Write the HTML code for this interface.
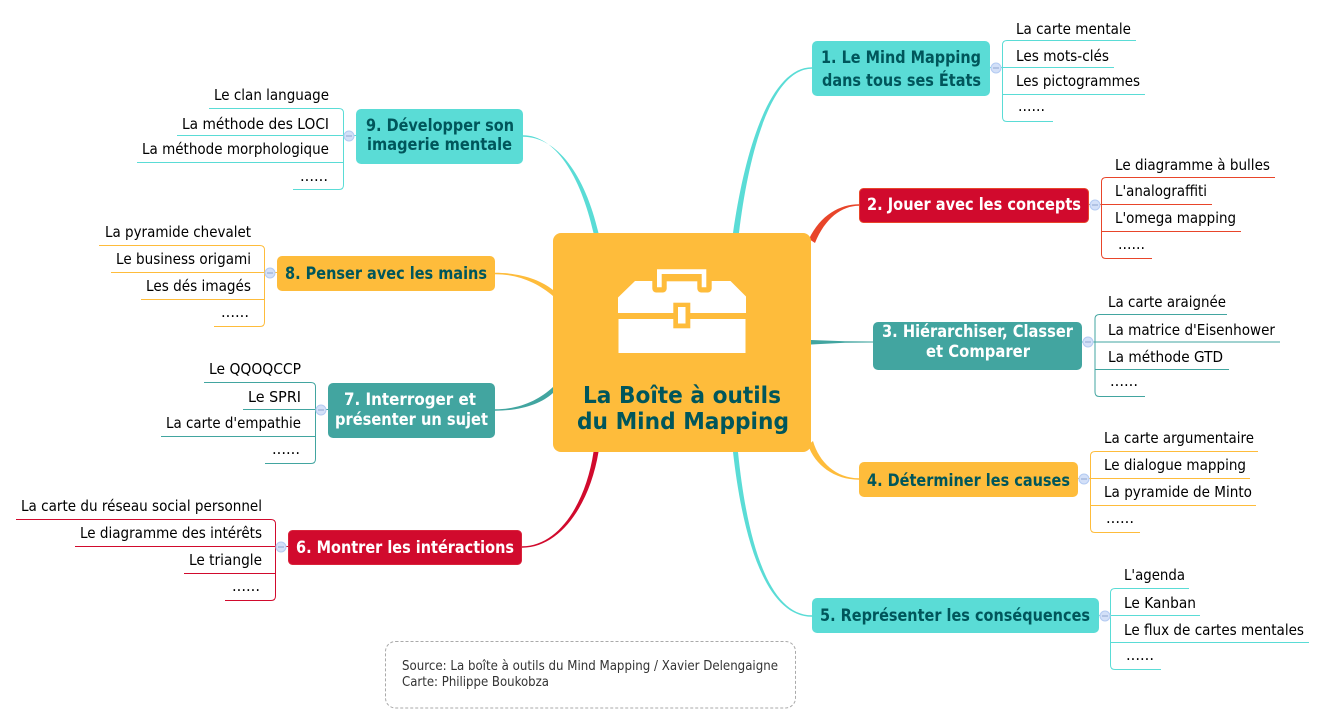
<!DOCTYPE html>
<html lang="fr"><head><meta charset="utf-8"><title>La Boîte à outils du Mind Mapping</title>
<style>
html,body{margin:0;padding:0;background:#fff}
svg{display:block}
text{font-family:"DejaVu Sans","Liberation Sans",sans-serif}
.l{font-size:15px;fill:#000}
.b{font-size:16.5px;font-weight:bold}
.w{fill:#fff}.d{fill:#00565b}
.t{font-size:23.5px;font-weight:bold;fill:#00565b}
.s{font-size:13.5px;fill:#333}
.c{fill:#d3e0f8;stroke:#b4cbf2;stroke-width:1}
.m{stroke:#8fa6cf;stroke-width:1}
.p{fill:none;stroke-width:1}
</style></head><body>
<svg xmlns="http://www.w3.org/2000/svg" width="1325" height="724" viewBox="0 0 1325 724">
<rect width="1325" height="724" fill="#fff"/>
<!-- main connectors -->
<path fill="#5adcd6" d="M733,233C745,149.500 770,67.300 812,67.300L812,68.700C772,68.700 749,150.500 739,233Z"/>
<path fill="#e8452a" d="M809,239C820.500,215 840,204.300 859,204.300L859,205.700C842,205.700 825,218 815,243Z"/>
<path fill="#42a5a0" d="M811,340L845,341.300L873,341.500L873,342.500L845,342.700L811,344.500Z"/>
<path fill="#febc3b" d="M813,441C819,462 836,478.300 859,478.300L859,479.700C834,479.700 815,465 808,445Z"/>
<path fill="#5adcd6" d="M733,452C743,540 766,616.700 812,616.700L812,615.300C768,615.300 747,540 738,452Z"/>
<path fill="#d10a2d" d="M593.500,452C586,502.500 559,546.300 522,546.300L522,547.700C561,547.700 590,503.500 598.500,452Z"/>
<path fill="#42a5a0" d="M553,387C539,400 520,409.300 495,409.300L495,410.700C521,410.700 541,404 553,393Z"/>
<path fill="#febc3b" d="M553,290C541,280 520.500,272.800 495,272.800L495,274.200C519.500,274.200 539,284 553,296Z"/>
<path fill="#5adcd6" d="M593.500,233C580.500,175.500 555,135.300 523,135.300L523,136.700C557,136.700 585,174.500 598.500,233Z"/>
<!-- central -->
<rect x="553" y="233" width="258" height="219" rx="8" fill="#febc3b"/>
<path fill="#fff" d="M618,297.500L635,281H730.500L746,296.500V313H618ZM618.500,319H745.500V353H618.500Z"/>
<rect x="652.300" y="275" width="14.400" height="17.500" rx="4" fill="#febc3b"/>
<rect x="697.300" y="275" width="14.400" height="17.500" rx="4" fill="#febc3b"/>
<rect x="657" y="269.300" width="49.300" height="12" fill="#febc3b"/>
<path fill="#fff" d="M657,287.300V269.300H706.300V287.300H701.700V274H661.700V287.300Z"/>
<rect x="673.300" y="302.700" width="17" height="25.600" fill="#febc3b"/>
<rect x="678" y="307" width="7.500" height="16.500" fill="#fff"/>
<text class="t" x="583" y="403" textLength="198" lengthAdjust="spacingAndGlyphs">La Boîte à outils</text>
<text class="t" x="577" y="429" textLength="212" lengthAdjust="spacingAndGlyphs">du Mind Mapping</text>
<!-- nodes -->
<rect x="812" y="41" width="178" height="55" rx="5" fill="#5adcd6"/>
<text class="b d" x="821" y="63" textLength="160" lengthAdjust="spacingAndGlyphs">1. Le Mind Mapping</text>
<text class="b d" x="822" y="86" textLength="159" lengthAdjust="spacingAndGlyphs">dans tous ses États</text>
<rect x="859.500" y="188.500" width="229" height="34" rx="4" fill="#d10a2d" stroke="#e8452a"/>
<text class="b w" x="867" y="210" textLength="214" lengthAdjust="spacingAndGlyphs">2. Jouer avec les concepts</text>
<rect x="873" y="322" width="209" height="48" rx="5" fill="#42a5a0"/>
<text class="b w" x="882" y="337" textLength="191" lengthAdjust="spacingAndGlyphs">3. Hiérarchiser, Classer</text>
<text class="b w" x="926" y="357" textLength="104" lengthAdjust="spacingAndGlyphs">et Comparer</text>
<rect x="859" y="462" width="219" height="35" rx="5" fill="#febc3b"/>
<text class="b d" x="867" y="486" textLength="203" lengthAdjust="spacingAndGlyphs">4. Déterminer les causes</text>
<rect x="812" y="598" width="287" height="35" rx="5" fill="#5adcd6"/>
<text class="b d" x="820" y="621" textLength="270" lengthAdjust="spacingAndGlyphs">5. Représenter les conséquences</text>
<rect x="288.500" y="530.500" width="233" height="34" rx="4" fill="#d10a2d" stroke="#d9233a"/>
<text class="b w" x="296" y="553" textLength="218" lengthAdjust="spacingAndGlyphs">6. Montrer les intéractions</text>
<rect x="328" y="383" width="167" height="55" rx="5" fill="#42a5a0"/>
<text class="b w" x="344" y="405" textLength="132" lengthAdjust="spacingAndGlyphs">7. Interroger et</text>
<text class="b w" x="335" y="425" textLength="153" lengthAdjust="spacingAndGlyphs">présenter un sujet</text>
<rect x="277" y="256" width="218" height="35" rx="5" fill="#febc3b"/>
<text class="b d" x="285" y="279" textLength="202" lengthAdjust="spacingAndGlyphs">8. Penser avec les mains</text>
<rect x="356" y="109" width="167" height="55" rx="5" fill="#5adcd6"/>
<text class="b d" x="366" y="131" textLength="148" lengthAdjust="spacingAndGlyphs">9. Développer son</text>
<text class="b d" x="367" y="150" textLength="145" lengthAdjust="spacingAndGlyphs">imagerie mentale</text>
<!-- leaf lines -->
<g class="p" stroke="#5adcd6">
<path class="p" d="M1136,40.500H1007Q1002.500,40.500 1002.500,45V117Q1002.500,121.500 1007,121.500H1053M990,67.500H1114M1002.500,94.500H1145"/>
<path class="p" d="M1189,588.500H1115Q1110.500,588.500 1110.500,593V665Q1110.500,669.500 1115,669.500H1161M1099,615.500H1200M1110.500,642.500H1309"/>
<path class="p" d="M209,108.500H339Q343.500,108.500 343.500,113V185Q343.500,189.500 339,189.500H293M356,135.500H177M343.500,162.500H137"/>
</g>
<g class="p" stroke="#e8452a">
<path class="p" d="M1275,177.500H1106Q1101.500,177.500 1101.500,182V254Q1101.500,258.500 1106,258.500H1152M1089,204.500H1212M1101.500,231.500H1241"/>
</g>
<g class="p" stroke="#42a5a0">
<path class="p" d="M1227,314.500H1099.500Q1095,314.500 1095,319V392Q1095,396.500 1099.500,396.500H1145M1082,342H1280M1095,369.500H1229"/>
<path class="p" d="M204,382.500H311Q315.500,382.500 315.500,387V459Q315.500,463.500 311,463.500H265M328,409.500H243M315.500,436.500H161"/>
</g>
<g class="p" stroke="#febc3b">
<path class="p" d="M1258,451.500H1095Q1090.500,451.500 1090.500,456V528Q1090.500,532.500 1095,532.500H1140M1078,478.500H1250M1090.500,505.500H1256"/>
<path class="p" d="M99,245.500H260Q264.500,245.500 264.500,250V322Q264.500,326.500 260,326.500H214M277,272.500H111M264.500,299.500H141"/>
</g>
<g class="p" stroke="#d10a2d">
<path class="p" d="M16,519.500H271Q275.500,519.500 275.500,524V596Q275.500,600.500 271,600.500H225M288,546.500H75M275.500,573.500H184"/>
</g>
<!-- collapse circles -->
<g>
<circle class="c" cx="996" cy="68" r="5"/><path class="m" d="M993,68H999"/>
<circle class="c" cx="1095" cy="205" r="5"/><path class="m" d="M1092,205H1098"/>
<circle class="c" cx="1088" cy="342" r="5"/><path class="m" d="M1085,342H1091"/>
<circle class="c" cx="1084" cy="479" r="5"/><path class="m" d="M1081,479H1087"/>
<circle class="c" cx="1105" cy="616" r="5"/><path class="m" d="M1102,616H1108"/>
<circle class="c" cx="281" cy="547" r="5"/><path class="m" d="M278,547H284"/>
<circle class="c" cx="321" cy="410" r="5"/><path class="m" d="M318,410H324"/>
<circle class="c" cx="270" cy="273" r="5"/><path class="m" d="M267,273H273"/>
<circle class="c" cx="349" cy="136" r="5"/><path class="m" d="M346,136H352"/>
</g>
<!-- leaf text -->
<g class="l">
<text class="l" x="1016" y="34" textLength="115" lengthAdjust="spacingAndGlyphs">La carte mentale</text>
<text class="l" x="1016" y="61" textLength="93" lengthAdjust="spacingAndGlyphs">Les mots-clés</text>
<text class="l" x="1016" y="86" textLength="124" lengthAdjust="spacingAndGlyphs">Les pictogrammes</text>
<text class="l" x="1018" y="111" textLength="27" lengthAdjust="spacingAndGlyphs">......</text>
<text class="l" x="1115" y="170" textLength="155" lengthAdjust="spacingAndGlyphs">Le diagramme à bulles</text>
<text class="l" x="1115" y="196" textLength="92" lengthAdjust="spacingAndGlyphs">L'analograffiti</text>
<text class="l" x="1115" y="223" textLength="121" lengthAdjust="spacingAndGlyphs">L'omega mapping</text>
<text class="l" x="1118" y="249" textLength="27" lengthAdjust="spacingAndGlyphs">......</text>
<text class="l" x="1108" y="307" textLength="118" lengthAdjust="spacingAndGlyphs">La carte araignée</text>
<text class="l" x="1108" y="335" textLength="167" lengthAdjust="spacingAndGlyphs">La matrice d'Eisenhower</text>
<text class="l" x="1108" y="362" textLength="115" lengthAdjust="spacingAndGlyphs">La méthode GTD</text>
<text class="l" x="1110" y="386" textLength="28" lengthAdjust="spacingAndGlyphs">......</text>
<text class="l" x="1104" y="443" textLength="150" lengthAdjust="spacingAndGlyphs">La carte argumentaire</text>
<text class="l" x="1104" y="470" textLength="142" lengthAdjust="spacingAndGlyphs">Le dialogue mapping</text>
<text class="l" x="1104" y="497" textLength="148" lengthAdjust="spacingAndGlyphs">La pyramide de Minto</text>
<text class="l" x="1106" y="523" textLength="28" lengthAdjust="spacingAndGlyphs">......</text>
<text class="l" x="1124" y="580" textLength="61" lengthAdjust="spacingAndGlyphs">L'agenda</text>
<text class="l" x="1124" y="608" textLength="72" lengthAdjust="spacingAndGlyphs">Le Kanban</text>
<text class="l" x="1124" y="635" textLength="180" lengthAdjust="spacingAndGlyphs">Le flux de cartes mentales</text>
<text class="l" x="1126" y="660" textLength="28" lengthAdjust="spacingAndGlyphs">......</text>
<text class="l" x="21" y="511" textLength="241" lengthAdjust="spacingAndGlyphs">La carte du réseau social personnel</text>
<text class="l" x="80" y="538" textLength="182" lengthAdjust="spacingAndGlyphs">Le diagramme des intérêts</text>
<text class="l" x="189" y="565" textLength="73" lengthAdjust="spacingAndGlyphs">Le triangle</text>
<text class="l" x="232" y="591" textLength="28" lengthAdjust="spacingAndGlyphs">......</text>
<text class="l" x="209" y="374" textLength="92" lengthAdjust="spacingAndGlyphs">Le QQOQCCP</text>
<text class="l" x="248" y="402" textLength="53" lengthAdjust="spacingAndGlyphs">Le SPRI</text>
<text class="l" x="166" y="428" textLength="135" lengthAdjust="spacingAndGlyphs">La carte d'empathie</text>
<text class="l" x="272" y="454" textLength="28" lengthAdjust="spacingAndGlyphs">......</text>
<text class="l" x="105" y="237" textLength="146" lengthAdjust="spacingAndGlyphs">La pyramide chevalet</text>
<text class="l" x="116" y="264" textLength="135" lengthAdjust="spacingAndGlyphs">Le business origami</text>
<text class="l" x="146" y="291" textLength="105" lengthAdjust="spacingAndGlyphs">Les dés imagés</text>
<text class="l" x="221" y="317" textLength="28" lengthAdjust="spacingAndGlyphs">......</text>
<text class="l" x="214" y="100" textLength="115" lengthAdjust="spacingAndGlyphs">Le clan language</text>
<text class="l" x="182" y="129" textLength="147" lengthAdjust="spacingAndGlyphs">La méthode des LOCI</text>
<text class="l" x="142" y="154" textLength="187" lengthAdjust="spacingAndGlyphs">La méthode morphologique</text>
<text class="l" x="300" y="181" textLength="28" lengthAdjust="spacingAndGlyphs">......</text>
</g>
<!-- source box -->
<rect x="385.500" y="641.500" width="410" height="66.500" rx="10" fill="#fff" stroke="#aaa" stroke-dasharray="3 2"/>
<text class="s" x="402" y="670" textLength="376" lengthAdjust="spacingAndGlyphs">Source: La boîte à outils du Mind Mapping / Xavier Delengaigne</text>
<text class="s" x="402" y="686" textLength="147" lengthAdjust="spacingAndGlyphs">Carte: Philippe Boukobza</text>
</svg>
</body></html>
